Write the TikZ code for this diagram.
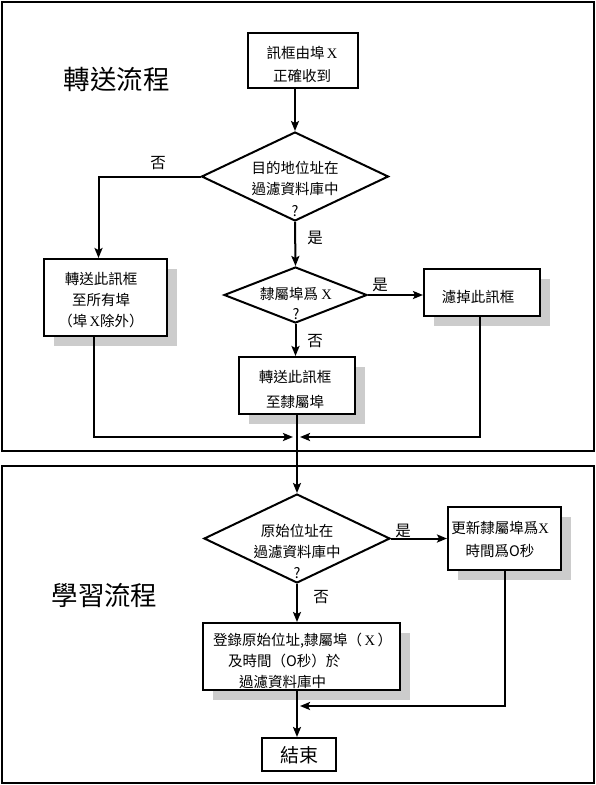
\documentclass[tikz,border=0pt]{standalone}
\usepackage{fontspec}
\setmainfont{Noto Sans CJK TC}
\newfontfamily\xf{Liberation Serif}
\newcommand\serX{{\xf X}}
\usetikzlibrary{arrows.meta,shapes.geometric,shadows,calc}
\begin{document}
\begin{tikzpicture}[x=1pt,y=-1pt,
  box/.style={draw,line width=2pt,fill=white,inner sep=0pt},
  shbox/.style={box,drop shadow={shadow xshift=10pt,shadow yshift=-10pt,fill=black!20,opacity=1}},
  dia/.style={draw,diamond,line width=2pt,inner sep=0pt,fill=white},
  txt/.style={inner sep=0pt,align=center,font=\fontsize{14.5}{21}\selectfont},
  lab/.style={inner sep=0pt,font=\fontsize{15.5}{18}\selectfont},
  title/.style={inner sep=0pt,font=\fontsize{26.5}{30}\selectfont},
  arr/.style={line width=2pt,-{Stealth[length=10pt,width=8pt,inset=2pt]}},
  frame/.style={line width=2.5pt}]
\useasboundingbox (0,0) rectangle (596,785);
% frames
\draw[frame] (2,2) rectangle (594,451);
\draw[frame] (2,466) rectangle (594,783);
% titles
\node[title] (t1) at (116.5,79) {轉送流程};
\node[title] (t2) at (104.5,595) {學習流程};
% boxes
\node[box,minimum width=110pt,minimum height=55pt] (b1) at (303,60.5) {};
\node[txt,font=\fontsize{14.5}{23}\selectfont] (b1t) at (302,64.5) {訊框由埠\,\serX{}\\正確收到};
\node[dia,minimum width=187pt,minimum height=89pt] (d1) at (295,176.5) {};
\node[txt,font=\fontsize{14.5}{21.5}\selectfont] (d1t) at (295,188.5) {目的地位址在\\過濾資料庫中\\?};
\node[shbox,minimum width=123pt,minimum height=77pt] (b2) at (105.5,297.5) {};
\node[txt] (b2t) at (101,300) {轉送此訊框\\至所有埠\\（埠\,\serX{}除外）};
\node[dia,minimum width=143pt,minimum height=56pt] (d2) at (295.5,295) {};
\node[txt,font=\fontsize{14.5}{20}\selectfont] (d2t) at (296,303) {隸屬埠爲\ \serX{}\\?};
\node[shbox,minimum width=116pt,minimum height=47pt] (b3) at (482,292.5) {};
\node[txt] (b3t) at (478,297) {濾掉此訊框};
\node[shbox,minimum width=116pt,minimum height=57pt] (b4) at (297,385.5) {};
\node[txt,font=\fontsize{14.5}{25}\selectfont] (b4t) at (295,389.5) {轉送此訊框\\至隸屬埠};
\node[dia,minimum width=186pt,minimum height=89pt] (d3) at (297,538.5) {};
\node[txt] (d3t) at (297,551) {原始位址在\\過濾資料庫中\\?};
\node[shbox,minimum width=113pt,minimum height=63pt] (b5) at (504.5,538.5) {};
\node[txt,font=\fontsize{14.5}{23}\selectfont] (b5t) at (500,539.5) {更新隸屬埠爲\serX{}\\時間爲O秒};
\node[shbox,minimum width=197pt,minimum height=67pt] (b6) at (301.5,656.5) {};
\node[txt,align=left,anchor=west] (b6t) at (213,661) {登錄原始位址,隸屬埠（\,\serX\,）\\\hspace*{15pt}及時間（O秒）於\\\hspace*{26pt}過濾資料庫中};
\node[box,minimum width=74pt,minimum height=33pt] (b7) at (299,754.5) {};
\node[txt,font=\fontsize{19}{22}\selectfont] (b7t) at (299,755) {結束};
% labels
\node[lab] (l1) at (158,163) {否};
\node[lab] (l2) at (315,238) {是};
\node[lab] (l3) at (380,285) {是};
\node[lab] (l4) at (315,341) {否};
\node[lab] (l5) at (403,531) {是};
\node[lab] (l6) at (321,597) {否};
% connectors
\coordinate (m1) at (296.5,437);
\coordinate (m2) at (297,706);
\draw[arr] (d1.north |- b1.south) -- (d1.north);
\draw[arr] (d1.west) -| ($(b2.north)+(-7,0)$);
\draw[arr] (d1.south) -- (d2.north);
\draw[arr] (d2.east) -- (b3.west |- d2.east);
\draw[arr] (d2.south) -- (d2.south |- b4.north);
\draw[arr] ($(b2.south)+(-12,0)$) |- ($(m1)+(-3.5,0)$);
\draw[arr] ($(b3.south)+(-2,0)$) |- ($(m1)+(3.5,0)$);
\draw[arr] (d3.north |- b4.south) -- (d3.north);
\draw[arr] (d3.east) -- (b5.west |- d3.east);
\draw[arr] (d3.south) -- (d3.south |- b6.north);
\draw[arr] (b5.south) |- ($(m2)+(3,0)$);
\draw[arr] (d3.south |- b6.south) -- (d3.south |- b7.north);
\end{tikzpicture}
\end{document}
